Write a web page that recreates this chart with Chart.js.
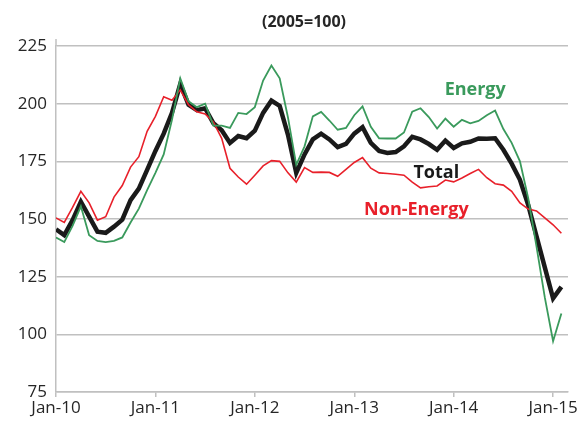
<!DOCTYPE html>
<html>
<head>
<meta charset="utf-8">
<script src="https://cdn.jsdelivr.net/npm/chart.js@4/dist/chart.umd.min.js"></script>
<style>
html,body{margin:0;padding:0;background:#fff;}
#wrap{width:582px;height:421px;}
</style>
</head>
<body>
<div id="wrap"><canvas id="c" width="582" height="421"></canvas></div>
<script>
// Monthly index values (2005=100), Jan-10 .. Feb-15
const energy = [142,140,147,155.5,143,140.5,140,140.5,142,148.5,154.5,162.5,
  170,178,193,211,201,198.5,200,190.5,190.5,189.5,196,195.5,
  198.5,210,216.5,211,194,173.5,181.5,194.5,196.4,192.7,188.7,189.5,
  195,198.8,190,185,184.9,184.9,187.5,196.5,198,194.2,189.2,193.5,
  190,193,191.5,192.5,195,197,189,183,175,159,138,116,
  97,109];
const total = [145.5,143,149.5,157.5,151,144.5,144,146.7,149.7,158.2,163.2,171.3,
  179.5,187,196,208.5,199.5,197.2,198,191.5,188.5,183,186,185,
  188.3,196,201.3,199,186.5,170,178,184.5,187,184.5,181.2,182.6,
  187,189.8,183,179.5,178.6,179,181.5,185.6,184.5,182.5,180,184,
  180.8,182.8,183.5,184.9,184.8,185,180,174,167,156,142.5,129,
  115.6,120.6];
const nonEnergy = [150.5,148.5,155,162,157,149.5,151,159.5,164.5,172.5,177,188,
  194.5,203,201.5,206,199.5,196.5,195.5,192,185,172,168.2,165.1,
  169,173,175.3,175,170,166,172.3,170.2,170.3,170.2,168.5,171.5,
  174.5,176.6,172,170,169.7,169.4,169,166,163.5,164,164.3,166.9,
  166.1,167.8,169.7,171.5,167.9,165.3,164.7,162,157,154.3,153.5,150.5,
  147.5,143.8];
const tickPositions = [0,12,24,36,48,60];
const tickLabels = ['Jan-10','Jan-11','Jan-12','Jan-13','Jan-14','Jan-15'];
const titleText = '(2005=100)';
// in-chart series labels: text, month index, value (baseline)
const seriesLabels = [
  {text:'Energy', x:50.6, y:203.9, color:'#3a9a5c'},
  {text:'Total', x:45.9, y:167.9, color:'#1a1a1a'},
  {text:'Non-Energy', x:43.5, y:151.9, color:'#e8202a'}
];

const toXY = arr => arr.map((v,i)=>({x:i,y:v}));
const GRID = '#c0c0c0';
const FONT = "'Open Sans', 'DejaVu Sans', sans-serif";

const labelPlugin = {
  id:'labels',
  afterDraw(chart){
    const ctx = chart.ctx, xs = chart.scales.x, ys = chart.scales.y, ca = chart.chartArea;
    ctx.save();
    // y axis extends slightly above the top gridline
    ctx.strokeStyle = GRID; ctx.lineWidth = 1.5;
    ctx.beginPath(); ctx.moveTo(ca.left, ca.top - 7); ctx.lineTo(ca.left, ca.top); ctx.stroke();
    // title
    ctx.fillStyle = '#262626';
    ctx.font = "bold 16px " + FONT;
    ctx.textAlign = 'center'; ctx.textBaseline = 'middle';
    ctx.fillText(titleText, (ca.left + ca.right)/2 - 8, 22);
    // series labels
    ctx.font = "bold 18px " + FONT;
    ctx.textBaseline = 'alphabetic';
    seriesLabels.forEach(l=>{
      ctx.fillStyle = l.color;
      ctx.fillText(l.text, xs.getPixelForValue(l.x), ys.getPixelForValue(l.y));
    });
    ctx.restore();
  }
};

new Chart(document.getElementById('c'), {
  type:'line',
  data:{
    datasets:[
      {label:'Energy', data:toXY(energy), borderColor:'#3a9a5c', borderWidth:1.8, pointRadius:0, tension:0},
      {label:'Non-Energy', data:toXY(nonEnergy), borderColor:'#e8202a', borderWidth:1.6, pointRadius:0, tension:0},
      {label:'Total', data:toXY(total), borderColor:'#1a1a1a', borderWidth:4.5, pointRadius:0, tension:0}
    ]
  },
  options:{
    responsive:false,
    animation:false,
    layout:{padding:{left:0,right:14,top:46,bottom:0}},
    plugins:{legend:{display:false}, title:{display:false}, tooltip:{enabled:false}},
    scales:{
      x:{
        type:'linear', min:0, max:61.8,
        afterBuildTicks(scale){ scale.ticks = tickPositions.map(v=>({value:v})); },
        afterFit(scale){ scale.height = 29; },
        grid:{drawOnChartArea:false, drawTicks:true, tickLength:5, color:GRID, lineWidth:1.5},
        border:{display:true, color:GRID, width:1.5},
        ticks:{
          autoSkip:false, maxRotation:0, padding:1,
          color:'#262626', font:{family:FONT, size:17},
          callback(v){ const i = tickPositions.indexOf(v); return i>=0 ? tickLabels[i] : ''; }
        }
      },
      y:{
        min:75, max:225,
        afterFit(scale){ scale.width = 56; },
        grid:{color:GRID, lineWidth:1.5, drawTicks:false},
        border:{display:true, color:GRID, width:1.5},
        ticks:{stepSize:25, padding:9, color:'#262626', font:{family:FONT, size:17}}
      }
    }
  },
  plugins:[labelPlugin]
});
</script>
</body>
</html>
